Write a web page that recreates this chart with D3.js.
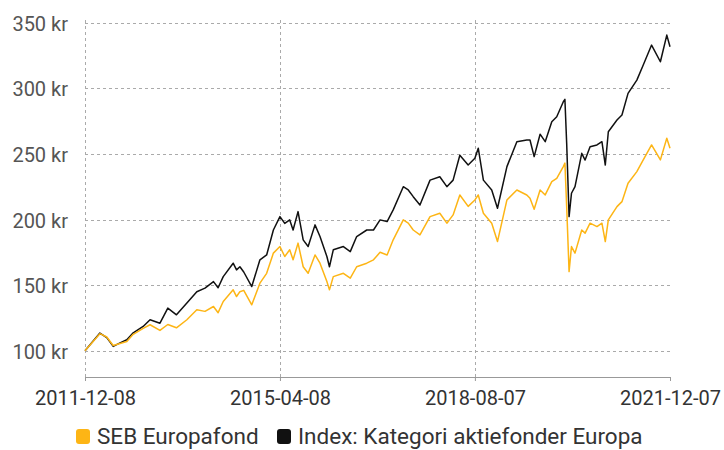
<!DOCTYPE html>
<html>
<head>
<meta charset="utf-8">
<script src="https://cdn.jsdelivr.net/npm/d3@7"></script>
<style>
  body { margin: 0; background: #fff; }
  svg { font-family: Roboto, "Noto Sans", sans-serif; }
</style>
</head>
<body>
<svg id="chart" width="724" height="450"></svg>
<script>
// readings
var dates = ["2011-12-08","2012-03-10","2012-04-22","2012-06-01","2012-07-14","2012-08-25","2012-10-04","2012-12-05",
  "2013-01-17","2013-03-20","2013-05-08","2013-07-01","2013-09-04","2013-11-05","2013-12-26","2014-02-17","2014-03-18",
  "2014-04-19","2014-06-20","2014-07-11","2014-08-01","2014-08-25","2014-10-14","2014-12-04","2015-01-15","2015-02-26",
  "2015-04-08","2015-05-08","2015-06-08","2015-06-29","2015-07-30","2015-08-31","2015-10-01","2015-11-13","2015-12-14",
  "2016-01-26","2016-02-11","2016-03-06","2016-05-08","2016-06-20","2016-07-30","2016-10-01","2016-11-12","2016-12-23",
  "2017-02-05","2017-03-15","2017-05-17","2017-06-17","2017-07-18","2017-08-29","2017-10-31","2017-12-31","2018-02-13",
  "2018-03-24","2018-05-05","2018-06-26","2018-08-07","2018-08-28","2018-09-29","2018-11-20","2018-12-26","2019-02-23",
  "2019-04-26","2019-06-27","2019-07-17","2019-08-12","2019-09-18","2019-10-20","2019-11-30","2019-12-31","2020-02-10",
  "2020-02-20","2020-03-02","2020-03-17","2020-04-01","2020-04-23","2020-06-04","2020-06-25","2020-07-26","2020-09-07",
  "2020-10-08","2020-10-29","2020-11-17","2021-01-10","2021-02-10","2021-03-20","2021-05-14","2021-06-23","2021-08-14",
  "2021-10-08","2021-11-17","2021-12-07"];

var sebFond = [100,113,110.5,104,105.5,107,112.5,117,
  119.8,115.5,120,117.5,123.6,131.2,130,133.7,129,
  137.5,146.4,141.3,145,146,135,151.5,159,174.4,
  179.4,171.8,176.9,169.3,182,164,159,173,166.7,
  152.7,146.4,156.5,159,155.3,164,166.7,169.3,175,
  173,184.5,199.7,197.2,192,188.3,202.2,204.8,197.2,
  203.5,218.7,210,214.9,218.7,204.8,197.2,183.2,214.9,
  222.5,218.7,216.2,207.8,222.5,218.7,228.8,231.4,240.3,
  243,209.8,160.3,179.4,174.4,192,189.6,197.2,194.6,
  197.2,183.2,199.7,209.8,213.6,227.6,236.5,245.4,256.8,
  245.4,261.9,254.3];

var indexKat = [100,113.5,110,103.3,106,108.4,113.7,118.5,
  123.6,121,132.5,127.4,136.3,145,147.7,152.7,148,
  156.5,166.7,161.6,164,160,148.9,169.3,173,192,
  202.2,197,199.7,192,206,184.5,179.4,195.9,187,
  171.8,164,176.9,179.4,175.5,187,192,192,199.7,
  198.4,207.3,225,222.5,217.4,211,230,232.6,225,
  230,249,241.5,246.6,254.3,230,222.5,208.6,240.3,
  259.3,260.6,260.6,247.9,265,259.3,274.5,278.3,289.7,
  291.5,258,202.2,220,225,250.4,245.3,255.5,256.8,
  259.3,241.5,266.9,275.8,279.6,296.1,306.2,317.7,332.9,
  320.2,340.5,331.6];

var yTicks = [100,150,200,250,300,350];
var xTicks = ["2011-12-08","2015-04-08","2018-08-07","2021-12-07"];
var seriesNames = ["SEB Europafond","Index: Kategori aktiefonder Europa"];
var seriesColors = ["#fdb515","#111111"];

var parse = d3.utcParse("%Y-%m-%d");

var svg = d3.select("#chart");
var x = d3.scaleUtc()
    .domain([parse("2011-12-08"), parse("2021-12-07")])
    .range([85, 670]);
var y = d3.scaleLinear()
    .domain([80, 352])
    .range([377, 20]);

// grid
svg.append("g").selectAll("line.h")
    .data(yTicks)
    .enter().append("line")
    .attr("x1", 85).attr("x2", 670)
    .attr("y1", function(d) { return Math.round(y(d)) + 0.5; })
    .attr("y2", function(d) { return Math.round(y(d)) + 0.5; })
    .attr("stroke", "#aaa").attr("stroke-dasharray", "3,3");

svg.append("g").selectAll("line.v")
    .data(xTicks.slice(0, 3))
    .enter().append("line")
    .attr("x1", function(d) { return Math.round(x(parse(d))) + 0.5; })
    .attr("x2", function(d) { return Math.round(x(parse(d))) + 0.5; })
    .attr("y1", 20).attr("y2", 377)
    .attr("stroke", "#aaa").attr("stroke-dasharray", "3,3");

// y labels
svg.append("g").selectAll("text")
    .data(yTicks)
    .enter().append("text")
    .attr("x", 68)
    .attr("y", function(d) { return y(d) + 8; })
    .attr("text-anchor", "end")
    .attr("fill", "#555")
    .style("font-size", "20px")
    .text(function(d) { return d + " kr"; });

// x axis
var xAxis = d3.axisBottom(x)
    .tickValues(xTicks.map(parse))
    .tickFormat(d3.utcFormat("%Y-%m-%d"))
    .tickSizeInner(4)
    .tickSizeOuter(0)
    .tickPadding(10);

var ax = svg.append("g")
    .attr("transform", "translate(0,377)")
    .call(xAxis);
ax.select(".domain").attr("stroke", "#999");
ax.selectAll(".tick line").attr("stroke", "#999");
ax.selectAll(".tick text")
    .attr("fill", "#333")
    .style("font-family", "Roboto, sans-serif")
    .style("font-size", "20px");

// lines
var line = d3.line()
    .x(function(d, i) { return x(parse(dates[i])); })
    .y(function(d) { return y(d); });

[indexKat, sebFond].forEach(function(s, k) {
    svg.append("path")
        .datum(s)
        .attr("fill", "none")
        .attr("stroke", k == 0 ? seriesColors[1] : seriesColors[0])
        .attr("stroke-width", 1.5)
        .attr("stroke-linejoin", "round")
        .attr("d", line);
});

// legend
var legX = [76, 277];
var leg = svg.append("g").selectAll("g")
    .data(seriesNames)
    .enter().append("g")
    .attr("transform", function(d, i) { return "translate(" + legX[i] + ",429)"; });
leg.append("rect")
    .attr("width", 14).attr("height", 15)
    .attr("rx", 3)
    .attr("fill", function(d, i) { return seriesColors[i]; });
leg.append("text")
    .attr("x", 21).attr("y", 15)
    .attr("fill", "#333")
    .style("font-size", "22.5px")
    .text(function(d) { return d; });
</script>
</body>
</html>
